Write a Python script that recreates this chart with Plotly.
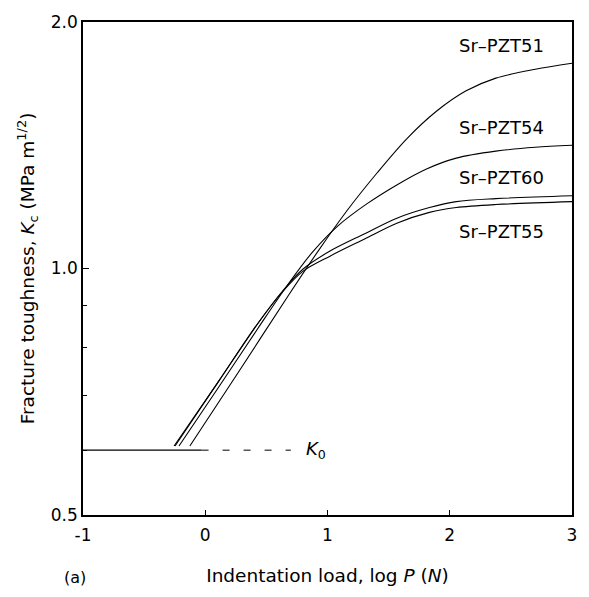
import numpy as np
import plotly.graph_objects as go

# ---- data (x = log P (N), y = Kc (MPa m^1/2)) ----
pzt51_x = [-0.126, 0.271, 0.676, 0.919, 1.162, 1.405, 1.648, 1.891, 2.134, 2.377, 2.700, 3.0]
pzt51_y = [0.607, 0.747, 0.925, 1.048, 1.178, 1.308, 1.440, 1.556, 1.648, 1.708, 1.751, 1.781]

pzt54_x = [-0.215, 0.109, 0.433, 0.676, 0.879, 1.081, 1.324, 1.567, 1.810, 2.053, 2.377, 2.700, 3.0]
pzt54_y = [0.607, 0.716, 0.846, 0.956, 1.048, 1.126, 1.200, 1.265, 1.323, 1.364, 1.391, 1.406, 1.414]

pzt60_x = [-0.255, 0.109, 0.433, 0.636, 0.798, 1.024, 1.300, 1.567, 1.834, 2.053, 2.377, 3.0]
pzt60_y = [0.607, 0.728, 0.858, 0.940, 0.998, 1.051, 1.102, 1.152, 1.187, 1.207, 1.217, 1.227]

pzt55_x = [-0.247, 0.109, 0.433, 0.636, 0.798, 1.024, 1.300, 1.567, 1.834, 2.053, 2.377, 3.0]
pzt55_y = [0.607, 0.728, 0.858, 0.938, 0.992, 1.036, 1.086, 1.136, 1.171, 1.187, 1.197, 1.207]

k0_value = 0.6
k0_solid_x = [-1.0, -0.03]
k0_dash_x = [-0.03, 0.70]

series_names = ["Sr\u2013PZT51", "Sr\u2013PZT54", "Sr\u2013PZT60", "Sr\u2013PZT55"]
label_y = [1.871, 1.486, 1.291, 1.111]

x_tickvals = [-1, 0, 1, 2, 3]
x_ticktext = ["-1", "0", "1", "2", "3"]
y_tickvals = [0.5, 1.0, 2.0]
y_ticktext = ["0.5", "1.0", "2.0"]
y_minor = [0.6, 0.7, 0.8, 0.9]

FONT = "DejaVu Sans, Liberation Sans, Arial, sans-serif"

# plot area in pixels
L, R, T, B = 83, 577, 15, 515
W, H = 589, 597

fig = go.Figure()
line_style = dict(color="black", width=1.1, shape="spline", smoothing=0.9)
for xs, ys, nm in [(pzt51_x, pzt51_y, series_names[0]), (pzt54_x, pzt54_y, series_names[1]),
                   (pzt60_x, pzt60_y, series_names[2]), (pzt55_x, pzt55_y, series_names[3])]:
    fig.add_trace(go.Scatter(x=xs, y=ys, mode="lines", line=line_style, name=nm, showlegend=False))

fig.add_trace(go.Scatter(x=k0_solid_x, y=[k0_value] * 2, mode="lines",
                         line=dict(color="black", width=1.1), showlegend=False))
fig.add_trace(go.Scatter(x=k0_dash_x, y=[k0_value] * 2, mode="lines",
                         line=dict(color="black", width=1, dash="7px,14px"), showlegend=False))

annotations = []
for nm, ly in zip(series_names, label_y):
    annotations.append(dict(x=2.425, y=np.log10(ly), xref="x", yref="y", text=nm, showarrow=False,
                            font=dict(family=FONT, size=18, color="black")))
annotations.append(dict(x=0.81, y=np.log10(k0_value), xref="x", yref="y", text="<i>K</i><sub>0</sub>",
                        showarrow=False, xanchor="left", font=dict(family=FONT, size=18, color="black")))
annotations.append(dict(x=(75 - L) / (R - L), y=-(578 - B) / (B - T), xref="paper", yref="paper",
                        xanchor="center", yanchor="middle", text="(a)", showarrow=False,
                        font=dict(family=FONT, size=16, color="black")))

fig.update_layout(
    width=W, height=H,
    margin=dict(l=L, r=W - R, t=T, b=H - B),
    paper_bgcolor="white", plot_bgcolor="white",
    font=dict(family=FONT, size=17, color="black"),
    annotations=annotations,
    xaxis=dict(range=[-1, 3], tickvals=x_tickvals, ticktext=x_ticktext, ticks="inside", ticklen=5,
               tickcolor="black",
               showline=True, linecolor="black", linewidth=1.6, mirror=True, showgrid=False,
               zeroline=False, tickfont=dict(size=17), ticklabelstandoff=4,
               title=dict(text="Indentation load, log <i>P</i> (<i>N</i>)", font=dict(size=18.5), standoff=25)),
    yaxis=dict(type="log", range=[np.log10(0.5), np.log10(2.0)], tickvals=y_tickvals, ticktext=y_ticktext,
               ticks="inside", ticklen=6, tickcolor="black",
               showline=True, linecolor="black", linewidth=1.6, mirror=True, showgrid=False,
               zeroline=False, tickfont=dict(size=17),
               minor=dict(tickvals=y_minor, ticks="inside", ticklen=4, tickcolor="black", showgrid=False),
               title=dict(text="Fracture toughness, <i>K</i><sub>c</sub> (MPa m<sup>1/2</sup>)",
                          font=dict(size=18.5), standoff=11)),
)

fig.write_html("out.html")
